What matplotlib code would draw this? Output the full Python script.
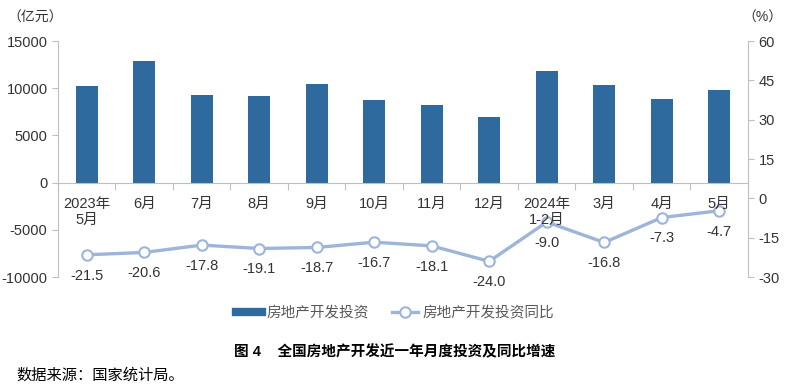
import matplotlib
matplotlib.use("Agg")
import matplotlib.pyplot as plt
from matplotlib.lines import Line2D
import numpy as np

plt.rcParams['font.family'] = ['Liberation Sans', 'Noto Sans CJK SC', 'DejaVu Sans']
plt.rcParams['axes.unicode_minus'] = False

categories = ["2023年\n5月", "6月", "7月", "8月", "9月", "10月", "11月", "12月",
              "2024年\n1-2月", "3月", "4月", "5月"]
investment = [10200, 12870, 9250, 9220, 10420, 8720, 8190, 6920, 11842, 10320, 8830, 9790]
yoy = [-21.5, -20.6, -17.8, -19.1, -18.7, -16.7, -18.1, -24.0, -9.0, -16.8, -7.3, -4.7]
left_ticks = [-10000, -5000, 0, 5000, 10000, 15000]
right_ticks = [-30, -15, 0, 15, 30, 45, 60]

bar_color = "#2E6A9E"
line_color = "#9DB5D8"
spine_color = "#BFBFBF"
text_color = "#333333"

fig = plt.figure(figsize=(7.9, 3.87), dpi=100)
ax = fig.add_axes([0.0734, 0.284, 0.8734, 0.610])
ax2 = ax.twinx()
ax.set_zorder(ax2.get_zorder() + 1)
ax.patch.set_visible(False)

x = np.arange(len(categories))
ax.bar(x, investment, width=0.39, color=bar_color, zorder=2)
ax.set_xlim(-0.5, len(categories) - 0.5)
ax.set_ylim(-10000, 15000)
ax.set_yticks(left_ticks)
ax.set_yticklabels([str(v) for v in left_ticks])

ax2.plot(x, yoy, color=line_color, lw=2.4, marker='o', markersize=7.5,
         markerfacecolor='white', markeredgecolor=line_color, markeredgewidth=1.5, zorder=3)
ax2.set_ylim(-30, 60)
ax2.set_yticks(right_ticks)
for xi, v in zip(x, yoy):
    ax2.annotate(f"{v:.1f}", (xi, v), xytext=(0, -15), textcoords='offset points',
                 ha='center', va='center', fontsize=10.5, color=text_color)

for a in (ax, ax2):
    a.spines['top'].set_visible(False)
    for s in ('left', 'right', 'bottom'):
        a.spines[s].set_color(spine_color)
ax2.spines['bottom'].set_visible(False)
ax.spines['right'].set_visible(False)
ax2.spines['left'].set_visible(False)
ax.spines['bottom'].set_position(('data', 0))

ax.tick_params(axis='y', colors=spine_color, labelcolor=text_color, labelsize=10.5, length=4)
ax2.tick_params(axis='y', colors=spine_color, labelcolor=text_color, labelsize=10.5, length=4)

ax.set_xticks(np.arange(-0.5, len(categories), 1.0))
ax.set_xticklabels([])
ax.tick_params(axis='x', which='major', direction='out', length=5, colors=spine_color)
ax.set_xticks(x, minor=True)
ax.set_xticklabels(categories, minor=True, fontsize=10.5, color=text_color, linespacing=1.25)
ax.tick_params(axis='x', which='minor', length=0, pad=10)
for lbl in ax.get_xticklabels(minor=True):
    lbl.set_verticalalignment('top')

fig.text(0.044, 0.955, "（亿元）", ha='center', va='center', fontsize=10, color=text_color)
fig.text(0.965, 0.955, "（%）", ha='center', va='center', fontsize=10, color=text_color)

handles = [Line2D([0], [0], color=bar_color, lw=6),
           Line2D([0], [0], color=line_color, lw=2.4, marker='o', markersize=7.5,
                  markerfacecolor='white', markeredgecolor=line_color, markeredgewidth=1.5)]
leg = fig.legend(handles, ["房地产开发投资", "房地产开发投资同比"], loc='center',
                 bbox_to_anchor=(0.5, 0.19), ncol=2, frameon=False, fontsize=10.5,
                 handlelength=1.8, columnspacing=1.6, handletextpad=0.3)
for t in leg.get_texts():
    t.set_color("#595959")

fig.text(0.5, 0.09, "图 4    全国房地产开发近一年月度投资及同比增速", ha='center', va='center',
         fontsize=10.5, fontweight='bold', color='black')
fig.text(0.021, 0.03, "数据来源：国家统计局。", ha='left', va='center', fontsize=11,
         color='black')

fig.savefig("out.png", dpi=100)
